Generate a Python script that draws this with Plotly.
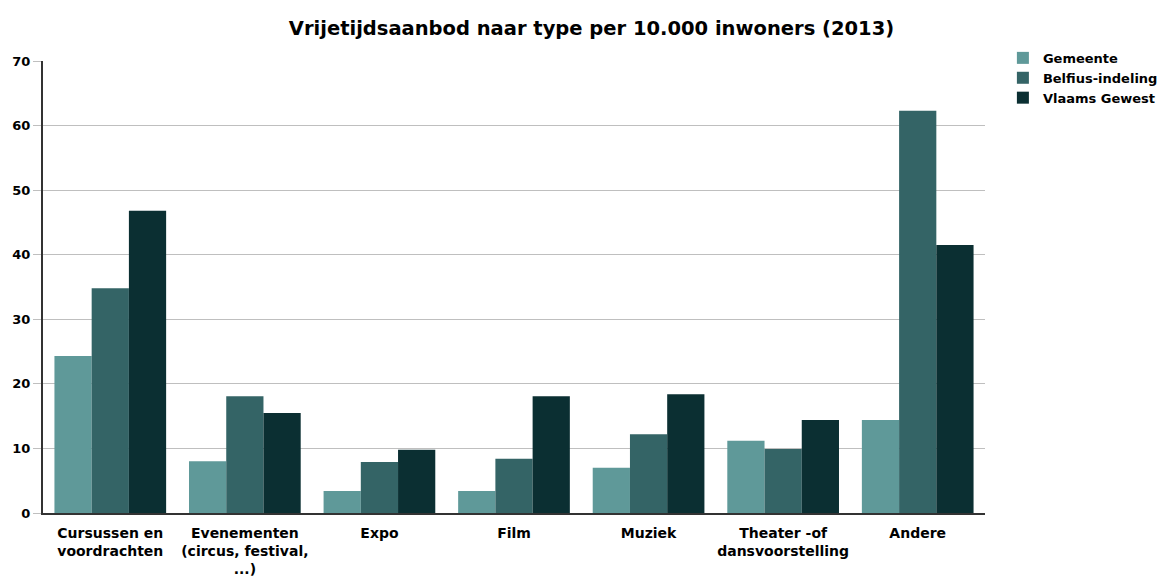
import plotly.graph_objects as go

categories = [
    "Cursussen en<br>voordrachten",
    "Evenementen<br>(circus, festival,<br>...)",
    "Expo",
    "Film",
    "Muziek",
    "Theater -of<br>dansvoorstelling",
    "Andere",
]
series_names = ["Gemeente", "Belfius-indeling", "Vlaams Gewest"]
gemeente = [24.3, 8.0, 3.4, 3.4, 7.0, 11.2, 14.4]
belfius = [34.8, 18.1, 7.9, 8.4, 12.2, 9.9, 62.3]
vlaams = [46.8, 15.5, 9.8, 18.1, 18.4, 14.4, 41.5]
colors = ["#5F9999", "#346466", "#0B2F32"]
y_ticks = [0, 10, 20, 30, 40, 50, 60, 70]

fig = go.Figure()
for name, vals, col in zip(series_names, [gemeente, belfius, vlaams], colors):
    fig.add_trace(go.Bar(x=categories, y=vals, name=f"<b>{name}</b>", marker_color=col,
                         marker_line_width=0))

fig.update_layout(
    width=1167, height=585,
    paper_bgcolor="white", plot_bgcolor="white",
    barmode="group", bargap=0.17, bargroupgap=0,
    margin=dict(l=35, r=190, t=53, b=80, autoexpand=False),
    font=dict(family="DejaVu Sans", size=13, color="#000000"),
    title=dict(text="<b>Vrijetijdsaanbod naar type per 10.000 inwoners (2013)</b>",
               x=0.5, xref="container", xanchor="center",
               y=1 - 20 / 585, yref="container", yanchor="middle",
               font=dict(size=19.5, color="#000000")),
    legend=dict(x=1.019, y=1.04, xanchor="left", yanchor="top",
                font=dict(size=13), tracegroupgap=0, itemwidth=30),
    showlegend=True,
)
fig.update_yaxes(range=[0, 70], tickvals=y_ticks,
                 ticktext=[f"<b>{v}</b>" for v in y_ticks],
                 showgrid=True, gridcolor="#BFBFBF", gridwidth=1,
                 showline=True, linecolor="#333333", linewidth=2,
                 ticks="outside", ticklen=8, tickcolor="#BFBFBF",
                 zeroline=False, automargin=False)
fig.update_xaxes(showline=True, linecolor="#333333", linewidth=2,
                 ticktext=[f"<b>{c}</b>" for c in categories], tickvals=categories,
                 tickfont=dict(size=14), ticklabelstandoff=6,
                 tickangle=0, ticks="", automargin=False)
fig.write_html("out.html")
